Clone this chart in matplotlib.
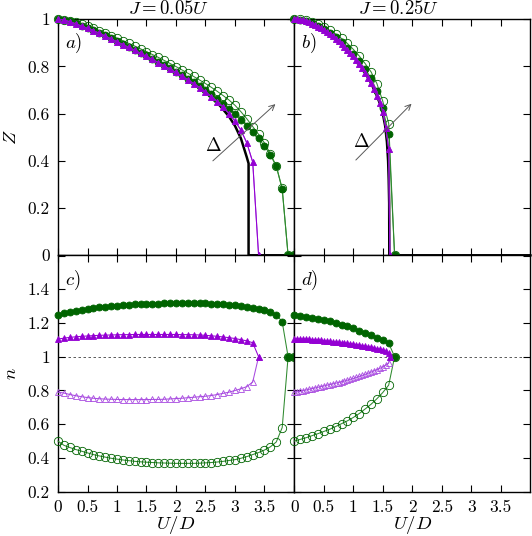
# -*- coding:utf-8 -*-
import numpy as np
import matplotlib
matplotlib.use('Agg')
import matplotlib.pyplot as plt

plt.rcParams['font.family'] = 'serif'
plt.rcParams['font.serif'] = ['cmr10', 'DejaVu Serif']
plt.rcParams['mathtext.fontset'] = 'cm'
plt.rcParams['axes.unicode_minus'] = False

# --------------------------------
#  J = 0.05U  (left column)
# --------------------------------
U_green_L = np.round(np.arange(0, 4.01, 0.1), 2)
Z_green_fill_L = [1.000, 0.997, 0.991, 0.982, 0.972, 0.963, 0.953, 0.942, 0.931, 0.919,
                  0.907, 0.895, 0.883, 0.871, 0.858, 0.846, 0.833, 0.820, 0.806, 0.792,
                  0.778, 0.763, 0.748, 0.732, 0.716, 0.699, 0.681, 0.662, 0.642, 0.620,
                  0.598, 0.574, 0.549, 0.523, 0.495, 0.463, 0.425, 0.376, 0.280, 0.0, 0.0]
Z_green_open_L = [1.000, 0.998, 0.993, 0.986, 0.978, 0.970, 0.961, 0.951, 0.941, 0.930,
                  0.919, 0.908, 0.897, 0.886, 0.874, 0.862, 0.850, 0.838, 0.825, 0.812,
                  0.799, 0.785, 0.771, 0.757, 0.742, 0.727, 0.711, 0.694, 0.676, 0.657,
                  0.635, 0.608, 0.578, 0.545, 0.512, 0.475, 0.430, 0.378, 0.283, 0.0, 0.0]
n_green_fill_L = [1.250, 1.258, 1.265, 1.272, 1.278, 1.283, 1.288, 1.293, 1.297, 1.300,
                  1.303, 1.306, 1.308, 1.310, 1.312, 1.313, 1.314, 1.315, 1.316, 1.316,
                  1.317, 1.317, 1.317, 1.317, 1.316, 1.316, 1.315, 1.313, 1.311, 1.308,
                  1.305, 1.300, 1.295, 1.290, 1.283, 1.275, 1.265, 1.250, 1.207, 1.0, 1.0]
n_green_open_L = [0.500, 0.475, 0.462, 0.450, 0.440, 0.430, 0.420, 0.412, 0.405, 0.398,
                  0.393, 0.388, 0.384, 0.380, 0.377, 0.375, 0.373, 0.371, 0.370, 0.369,
                  0.368, 0.368, 0.368, 0.368, 0.369, 0.371, 0.373, 0.376, 0.380, 0.385,
                  0.390, 0.398, 0.408, 0.420, 0.432, 0.447, 0.466, 0.495, 0.580, 1.0, 1.0]

U_purple_L = np.round(np.arange(0, 3.41, 0.1), 2)
Z_purple_L = [1.000, 0.996, 0.989, 0.980, 0.970, 0.961, 0.951, 0.940, 0.928, 0.916,
              0.904, 0.892, 0.880, 0.868, 0.855, 0.842, 0.829, 0.816, 0.802, 0.788,
              0.774, 0.759, 0.743, 0.727, 0.710, 0.692, 0.672, 0.651, 0.627, 0.600,
              0.568, 0.530, 0.476, 0.395, 0.0]
n_purple_fill_L = [1.105, 1.110, 1.115, 1.118, 1.121, 1.123, 1.125, 1.127, 1.128, 1.129,
                   1.130, 1.131, 1.131, 1.132, 1.132, 1.132, 1.132, 1.132, 1.132, 1.132,
                   1.132, 1.131, 1.131, 1.130, 1.129, 1.127, 1.124, 1.121, 1.117, 1.113,
                   1.108, 1.101, 1.094, 1.083, 1.0]
n_purple_open_L = [0.790, 0.785, 0.776, 0.769, 0.763, 0.758, 0.754, 0.751, 0.749, 0.748,
                   0.747, 0.746, 0.746, 0.746, 0.746, 0.746, 0.747, 0.747, 0.748, 0.750,
                   0.752, 0.754, 0.757, 0.760, 0.763, 0.766, 0.770, 0.776, 0.783, 0.790,
                   0.800, 0.810, 0.823, 0.850, 1.0]

U_black_L = [0, 0.25, 0.5, 0.75, 1.0, 1.25, 1.5, 1.75, 2.0, 2.25, 2.5, 2.75, 2.9,
             3.0, 3.1, 3.2, 3.23, 3.23, 4.0]
Z_black_L = [1.0, 0.985, 0.962, 0.935, 0.905, 0.875, 0.843, 0.81, 0.775, 0.736, 0.69,
             0.632, 0.587, 0.548, 0.495, 0.415, 0.389, 0.0, 0.0]

# --------------------------------
#  J = 0.25U  (right column)
# --------------------------------
U_green_R = np.round(np.arange(0, 1.71, 0.1), 2)
Z_green_fill_R = [1.0, 0.998, 0.993, 0.984, 0.972, 0.959, 0.943, 0.925, 0.903, 0.879,
                  0.852, 0.822, 0.789, 0.751, 0.695, 0.622, 0.513, 0.0]
Z_green_open_R = [1.0, 0.999, 0.995, 0.988, 0.978, 0.966, 0.952, 0.937, 0.918, 0.897,
                  0.872, 0.844, 0.812, 0.777, 0.727, 0.652, 0.558, 0.0]
n_green_fill_R = [1.247, 1.243, 1.237, 1.232, 1.225, 1.218, 1.210, 1.200, 1.190, 1.180,
                  1.168, 1.155, 1.142, 1.128, 1.113, 1.097, 1.080, 1.0]
n_green_open_R = [0.500, 0.510, 0.520, 0.532, 0.544, 0.557, 0.570, 0.586, 0.603, 0.620,
                  0.640, 0.663, 0.690, 0.718, 0.751, 0.788, 0.832, 1.0]

U_purple_R = list(np.round(np.arange(0, 1.61, 0.05), 2)) + [1.62]
Z_purple_R = [1.0, 0.9995, 0.998, 0.995, 0.992, 0.987, 0.981, 0.975, 0.968, 0.961,
              0.953, 0.945, 0.937, 0.927, 0.917, 0.906, 0.895, 0.882, 0.869, 0.856,
              0.842, 0.826, 0.810, 0.792, 0.773, 0.752, 0.730, 0.704, 0.676, 0.645,
              0.608, 0.540, 0.450, 0.0]
n_purple_fill_R = [1.106, 1.106, 1.105, 1.105, 1.104, 1.103, 1.102, 1.100, 1.099, 1.097,
                   1.095, 1.093, 1.091, 1.089, 1.087, 1.085, 1.083, 1.081, 1.079, 1.077,
                   1.075, 1.072, 1.069, 1.066, 1.063, 1.060, 1.056, 1.052, 1.048, 1.044,
                   1.039, 1.031, 1.020, 1.0]
n_purple_open_R = [0.790, 0.792, 0.795, 0.799, 0.803, 0.807, 0.811, 0.815, 0.819, 0.823,
                   0.827, 0.831, 0.835, 0.839, 0.843, 0.847, 0.852, 0.856, 0.861, 0.866,
                   0.871, 0.877, 0.883, 0.889, 0.895, 0.902, 0.909, 0.916, 0.923, 0.931,
                   0.940, 0.950, 0.962, 1.0]

U_black_R = [0, 0.2, 0.4, 0.6, 0.8, 1.0, 1.1, 1.2, 1.3, 1.4, 1.45, 1.5, 1.54, 1.57,
             1.59, 1.60, 1.608, 1.61, 4.0]
Z_black_R = [1.0, 0.992, 0.968, 0.937, 0.895, 0.842, 0.81, 0.773, 0.73, 0.675, 0.643,
             0.60, 0.548, 0.48, 0.40, 0.32, 0.22, 0.0, 0.0]

x_ticks = [0, 0.5, 1, 1.5, 2, 2.5, 3, 3.5]
x_ticklabels = ['0', '0.5', '1', '1.5', '2', '2.5', '3', '3.5']
z_ticks = [0, 0.2, 0.4, 0.6, 0.8, 1.0]
z_ticklabels = ['0', '0.2', '0.4', '0.6', '0.8', '1']
n_ticks = [0.2, 0.4, 0.6, 0.8, 1.0, 1.2, 1.4, 1.6]
n_ticklabels = ['0.2', '0.4', '0.6', '0.8', '1', '1.2', '1.4', '']

GREEN = '#006400'
GREEN_LINE = '#2f8a2f'
PURPLE = '#9400d3'
PURPLE_OPEN = '#a84ae0'

fig = plt.figure(figsize=(5.32, 5.36), dpi=100)
W, H = 236 / 532, 236.2 / 536
ax_a = fig.add_axes([58 / 532, 1 - 255.3 / 536, W, H])
ax_b = fig.add_axes([294.3 / 532, 1 - 255.3 / 536, W, H])
ax_c = fig.add_axes([58 / 532, 1 - 491.7 / 536, W, H])
ax_d = fig.add_axes([294.3 / 532, 1 - 491.7 / 536, W, H])


def plot_series(ax, U, y, color, lcolor, marker, ms, filled, z):
    ax.plot(U, y, color=lcolor, lw=0.75, marker=marker, ms=ms,
            mfc=color if filled else 'none', mec=color, mew=0.6,
            clip_on=False, zorder=z)


def style(ax, ylim, yticks, yticklabels, show_y, show_x):
    ax.set_xlim(0, 4)
    ax.set_ylim(*ylim)
    ax.set_xticks(x_ticks)
    ax.set_yticks(yticks)
    ax.tick_params(direction='in', length=5, width=0.8, top=True, right=True,
                   labelsize=12.5, pad=6)
    ax.set_xticklabels(x_ticklabels if show_x else [])
    ax.set_yticklabels(yticklabels if show_y else [])
    for s in ax.spines.values():
        s.set_linewidth(1.0)


# top row: Z
for ax, Ug, Zf, Zo, Up, Zp, Ub, Zb in [
        (ax_a, U_green_L, Z_green_fill_L, Z_green_open_L, U_purple_L, Z_purple_L,
         U_black_L, Z_black_L),
        (ax_b, U_green_R, Z_green_fill_R, Z_green_open_R, U_purple_R, Z_purple_R,
         U_black_R, Z_black_R)]:
    ax.plot(Ub, Zb, color='black', lw=1.8, zorder=3, clip_on=False)
    plot_series(ax, Ug, Zo, GREEN, GREEN_LINE, 'o', 6, False, 4)
    plot_series(ax, Ug, Zf, GREEN, GREEN_LINE, 'o', 5, True, 5)
    plot_series(ax, Up, Zp, PURPLE_OPEN, PURPLE_OPEN, '^', 5, False, 6)
    plot_series(ax, Up, Zp, PURPLE, PURPLE, '^', 4.5, True, 7)

# bottom row: n
for ax, Ug, nf, no, Up, npf, npo in [
        (ax_c, U_green_L, n_green_fill_L, n_green_open_L, U_purple_L,
         n_purple_fill_L, n_purple_open_L),
        (ax_d, U_green_R, n_green_fill_R, n_green_open_R, U_purple_R,
         n_purple_fill_R, n_purple_open_R)]:
    ax.axhline(1.0, color='0.25', lw=0.6, ls=(0, (3, 3)), zorder=1)
    plot_series(ax, Ug, no, GREEN, GREEN_LINE, 'o', 6, False, 4)
    plot_series(ax, Ug, nf, GREEN, GREEN_LINE, 'o', 5, True, 5)
    plot_series(ax, Up, npo, PURPLE_OPEN, PURPLE_OPEN, '^', 5, False, 6)
    plot_series(ax, Up, npf, PURPLE, PURPLE, '^', 4.5, True, 7)

style(ax_a, (0, 1), z_ticks, z_ticklabels, True, False)
style(ax_b, (0, 1), z_ticks, z_ticklabels, False, False)
style(ax_c, (0.2, 1.6), n_ticks, n_ticklabels, True, True)
style(ax_d, (0.2, 1.6), n_ticks, n_ticklabels, False, True)

ax_a.set_ylabel('$Z$', fontsize=13.5, labelpad=5)
ax_c.set_ylabel('$n$', fontsize=13.5, labelpad=5)
ax_c.set_xlabel('$U/D$', fontsize=13.5, labelpad=-1)
ax_d.set_xlabel('$U/D$', fontsize=13.5, labelpad=-1)

ax_a.text(0.47, 1.003, '$J=0.05U$', transform=ax_a.transAxes, fontsize=13.5,
          ha='center', va='bottom')
ax_b.text(0.44, 1.003, '$J=0.25U$', transform=ax_b.transAxes, fontsize=13.5,
          ha='center', va='bottom')

for ax, lab in [(ax_a, 'a)'), (ax_b, 'b)'), (ax_c, 'c)'), (ax_d, 'd)')]:
    ax.text(0.03, 0.895, '$' + lab + '$', transform=ax.transAxes, fontsize=13.5,
            ha='left', va='center')

# Delta arrows
ax_a.annotate('', xy=(3.72, 0.648), xytext=(2.59, 0.392),
              arrowprops=dict(arrowstyle='->', color='0.35', lw=0.7), zorder=8)
ax_a.text(2.63, 0.463, r'$\Delta$', fontsize=13.5, ha='center', va='center', zorder=9)
ax_b.annotate('', xy=(2.02, 0.65), xytext=(1.01, 0.395),
              arrowprops=dict(arrowstyle='->', color='0.35', lw=0.7), zorder=8)
ax_b.text(1.13, 0.48, r'$\Delta$', fontsize=13.5, ha='center', va='center', zorder=9)

fig.savefig('out.png', dpi=100)
